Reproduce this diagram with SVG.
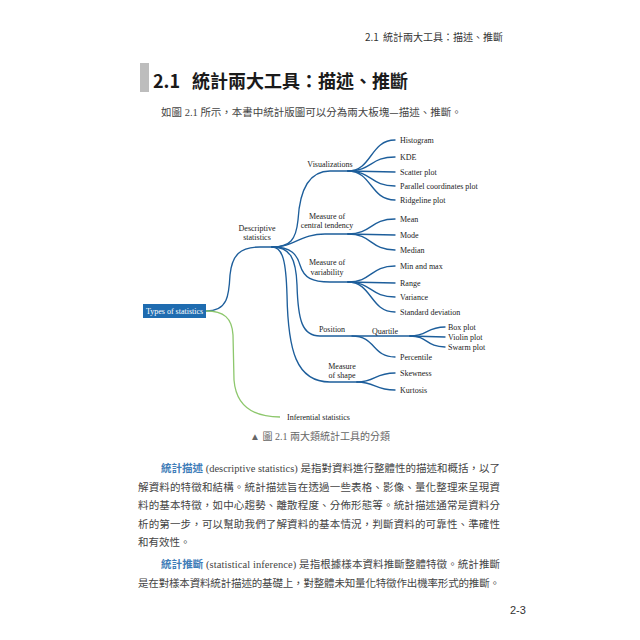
<svg xmlns="http://www.w3.org/2000/svg" width="640" height="640" viewBox="0 0 640 640">
<style>
.hdr{font-family:"Noto Sans CJK TC","Liberation Sans",sans-serif;font-size:10px;fill:#333}
.ttl{font-family:"Noto Sans CJK TC","Liberation Sans",sans-serif;font-size:18px;font-weight:bold;fill:#1a1a1a}
.body{font-family:"Liberation Serif","Noto Sans CJK TC",serif;font-size:10.5px;fill:#444}
.cjk{font-family:"Noto Sans CJK TC",sans-serif}
.em{font-family:"Noto Sans CJK TC",sans-serif;font-weight:bold;fill:#3f7db8}
.cap{font-family:"Liberation Serif","Noto Sans CJK TC",serif;font-size:10px;fill:#666}
.lbl{font-family:"Liberation Serif",serif;font-size:8px;fill:#222}
.mid{text-anchor:middle}
.br{fill:none;stroke:#1d5e9b;stroke-width:1.35;stroke-linecap:round}
.gr{fill:none;stroke:#8dc76c;stroke-width:1.3}
</style>
<rect width="640" height="640" fill="#fff"/>
<text class="hdr" x="365" y="41">2.1 <tspan x="383" class="cjk">統計兩大工具：描述、推斷</tspan></text>
<rect x="140" y="63" width="9" height="29" fill="#bdbdbd"/>
<text class="ttl" x="153" y="88">2.1<tspan x="192">統計兩大工具：描述、推斷</tspan></text>
<text class="body" x="161" y="116"><tspan class="cjk">如圖</tspan> 2.1 <tspan class="cjk">所示，本書中統計版圖可以分為兩大板塊—描述、推斷。</tspan></text>

<g id="connectors">
<path class="br" d="M206,311 C228,311 229,295 230,275 C232,255 240,247 260,247 L272,247"/>
<path class="gr" d="M206,311 C224,311 232,318 233,335 L234,380 C236,405 252,417 280,417"/>
<path class="br" d="M272,247 C290,247 296,240 298,220 C300,185 312,171 330,171 L348,171"/>
<path class="br" d="M272,247 C295,247 300,234 325,234 L348,234"/>
<path class="br" d="M272,247 C292,247 297,255 300,265 C304,278 312,282 330,282 L348,282"/>
<path class="br" d="M272,247 C290,247 296,258 297,285 C298,320 302,336 320,336 L410,336"/>
<path class="br" d="M272,247 C283,247 286,262 287,295 C288,350 296,382 330,382 L357,382"/>
<path class="br" d="M348,171 C372,171 370,140 395,140"/>
<path class="br" d="M348,171 C372,171 370,157 395,157"/>
<path class="br" d="M348,171 L395,172"/>
<path class="br" d="M348,171 C372,171 370,186 395,186"/>
<path class="br" d="M348,171 C372,171 370,200 395,200"/>
<path class="br" d="M348,234 C372,234 370,219 395,219"/>
<path class="br" d="M348,234 L395,235"/>
<path class="br" d="M348,234 C372,234 370,250 395,250"/>
<path class="br" d="M348,282 C372,282 370,266 395,266"/>
<path class="br" d="M348,282 L395,283"/>
<path class="br" d="M348,282 C372,282 370,297 395,297"/>
<path class="br" d="M348,282 C372,282 370,312 395,312"/>
<path class="br" d="M352,336 C376,336 372,357 395,357"/>
<path class="br" d="M410,336 C428,336 426,327 445,327"/>
<path class="br" d="M410,336 L445,337"/>
<path class="br" d="M410,336 C428,336 426,347 445,347"/>
<path class="br" d="M357,382 C376,382 374,373 395,373"/>
<path class="br" d="M357,382 C376,382 374,390 395,390"/>
</g>

<g id="root"><rect x="143" y="304" width="63" height="14" fill="#1f6cb0"/><text class="lbl mid" x="174.5" y="314" style="fill:#fff">Types of statistics</text></g>
<g id="descriptive"><text class="lbl mid" x="257" y="231">Descriptive</text><text class="lbl mid" x="257" y="240">statistics</text></g>
<g id="inferential"><text class="lbl" x="287" y="420">Inferential statistics</text></g>
<g id="visualizations"><text class="lbl mid" x="330" y="167">Visualizations</text></g>
<g id="central"><text class="lbl mid" x="327" y="219">Measure of</text><text class="lbl mid" x="327" y="228">central tendency</text></g>
<g id="variability"><text class="lbl mid" x="327" y="265">Measure of</text><text class="lbl mid" x="327" y="275">variability</text></g>
<g id="position"><text class="lbl mid" x="332" y="332">Position</text></g>
<g id="quartile"><text class="lbl mid" x="385" y="334">Quartile</text></g>
<g id="shape"><text class="lbl mid" x="342" y="369">Measure</text><text class="lbl mid" x="342" y="378">of shape</text></g>
<g id="histogram"><text class="lbl" x="400" y="143">Histogram</text></g>
<g id="kde"><text class="lbl" x="400" y="160">KDE</text></g>
<g id="scatter"><text class="lbl" x="400" y="175">Scatter plot</text></g>
<g id="parallel"><text class="lbl" x="400" y="189">Parallel coordinates plot</text></g>
<g id="ridgeline"><text class="lbl" x="400" y="203">Ridgeline plot</text></g>
<g id="mean"><text class="lbl" x="400" y="222">Mean</text></g>
<g id="mode"><text class="lbl" x="400" y="238">Mode</text></g>
<g id="median"><text class="lbl" x="400" y="253">Median</text></g>
<g id="minmax"><text class="lbl" x="400" y="269">Min and max</text></g>
<g id="range"><text class="lbl" x="400" y="286">Range</text></g>
<g id="variance"><text class="lbl" x="400" y="300">Variance</text></g>
<g id="stddev"><text class="lbl" x="400" y="315">Standard deviation</text></g>
<g id="boxplot"><text class="lbl" x="448" y="330">Box plot</text></g>
<g id="violin"><text class="lbl" x="448" y="340">Violin plot</text></g>
<g id="swarm"><text class="lbl" x="448" y="350">Swarm plot</text></g>
<g id="percentile"><text class="lbl" x="400" y="360">Percentile</text></g>
<g id="skewness"><text class="lbl" x="400" y="376">Skewness</text></g>
<g id="kurtosis"><text class="lbl" x="400" y="393">Kurtosis</text></g>

<text class="cap mid" x="320" y="440">▲ <tspan class="cjk">圖</tspan> 2.1 <tspan class="cjk">兩大類統計工具的分類</tspan></text>

<text class="body" x="161" y="472" textLength="339" lengthAdjust="spacing"><tspan class="em">統計描述</tspan> (descriptive statistics) <tspan class="cjk">是指對資料進行整體性的描述和概括，以了</tspan></text>
<text class="body cjk" x="138" y="490.5" textLength="362" lengthAdjust="spacing">解資料的特徵和結構。統計描述旨在透過一些表格、影像、量化整理來呈現資</text>
<text class="body cjk" x="138" y="509" textLength="362" lengthAdjust="spacing">料的基本特徵，如中心趨勢、離散程度、分佈形態等。統計描述通常是資料分</text>
<text class="body cjk" x="138" y="527.5" textLength="362" lengthAdjust="spacing">析的第一步，可以幫助我們了解資料的基本情況，判斷資料的可靠性、準確性</text>
<text class="body cjk" x="138" y="546">和有效性。</text>
<text class="body" x="161" y="568" textLength="339" lengthAdjust="spacing"><tspan class="em">統計推斷</tspan> (statistical inference) <tspan class="cjk">是指根據樣本資料推斷整體特徵。統計推斷</tspan></text>
<text class="body cjk" x="138" y="586.5" textLength="362" lengthAdjust="spacing">是在對樣本資料統計描述的基礎上，對整體未知量化特徵作出機率形式的推斷。</text>
<text class="hdr" x="510" y="614" style="font-family:'Liberation Sans',sans-serif;font-size:11px">2-3</text>
</svg>
